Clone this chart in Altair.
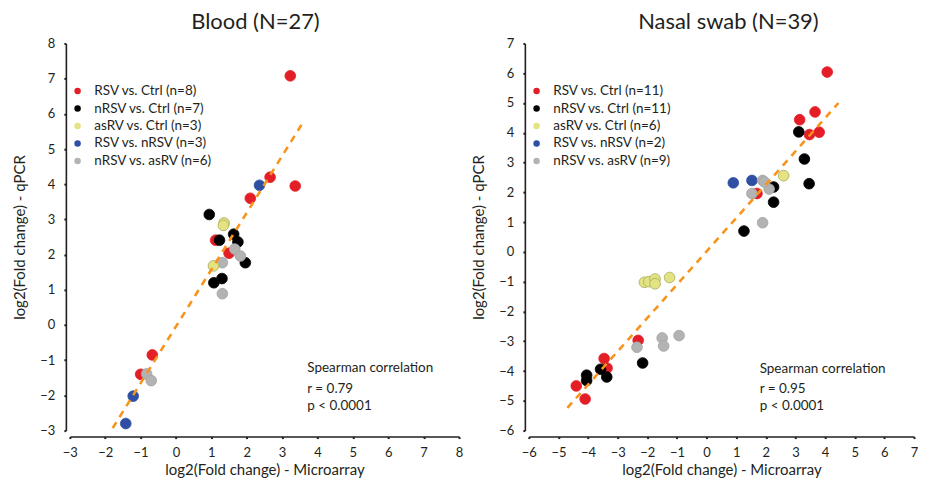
import altair as alt
import pandas as pd

FONT = "Lato"

groups = ["RSV vs. Ctrl", "nRSV vs. Ctrl", "asRV vs. Ctrl", "RSV vs. nRSV", "nRSV vs. asRV"]
fill_colors = ["#E31E26", "#000000", "#E3E383", "#2E4FA3", "#B3B3B3"]
stroke_colors = ["#E31E26", "#000000", "#A9A95A", "#2E4FA3", "#A3A3A3"]
draw_order = ["RSV vs. Ctrl", "nRSV vs. Ctrl", "RSV vs. nRSV", "nRSV vs. asRV", "asRV vs. Ctrl"]

# ---- Blood (N=27)
blood_n = [8, 7, 3, 3, 6]
blood_group = (["RSV vs. Ctrl"] * 8 + ["nRSV vs. Ctrl"] * 7 + ["asRV vs. Ctrl"] * 3
               + ["RSV vs. nRSV"] * 3 + ["nRSV vs. asRV"] * 6)
blood_x = [3.23, 2.66, 3.37, 2.10, 1.12, 1.50, -0.67, -1.00,
           0.94, 1.63, 1.23, 1.75, 1.96, 1.30, 1.07,
           1.36, 1.34, 1.06,
           2.36, -1.21, -1.42,
           1.66, 1.82, 1.31, 1.31, -0.83, -0.70]
blood_y = [7.08, 4.20, 3.95, 3.60, 2.41, 2.04, -0.85, -1.40,
           3.14, 2.58, 2.41, 2.36, 1.77, 1.32, 1.20,
           2.90, 2.83, 1.68,
           3.97, -2.02, -2.80,
           2.16, 1.96, 1.77, 0.89, -1.39, -1.58]
blood_fit_x = [-1.79, 3.58]
blood_fit_y = [-2.93, 5.74]
blood_ann_x = [3.71, 3.71, 3.71]
blood_ann_y = [-1.22, -1.81, -2.29]
blood_ann_text = ["Spearman correlation", "r = 0.79", "p < 0.0001"]

# ---- Nasal swab (N=39)
nasal_n = [11, 11, 6, 2, 9]
nasal_group = (["RSV vs. Ctrl"] * 11 + ["nRSV vs. Ctrl"] * 11 + ["asRV vs. Ctrl"] * 6
               + ["RSV vs. nRSV"] * 2 + ["nRSV vs. asRV"] * 9)
nasal_x = [4.07, 3.66, 3.14, 3.47, 3.80, 1.70, -2.31, -3.46, -3.36, -4.40, -4.10,
           3.11, 3.30, 3.46, 2.26, 2.26, 1.26, -2.16, -3.58, -3.37, -4.05, -4.05,
           2.60, -2.10, -1.95, -1.74, -1.74, -1.25,
           0.90, 1.53,
           1.89, 2.11, 1.53, 1.89, -2.35, -1.50, -0.93, -1.45, 1.95]
nasal_y = [6.04, 4.70, 4.44, 3.94, 4.02, 1.96, -2.97, -3.58, -3.90, -4.50, -4.94,
           4.03, 3.12, 2.29, 2.18, 1.67, 0.70, -3.73, -3.94, -4.20, -4.14, -4.32,
           2.56, -1.02, -1.00, -0.91, -1.07, -0.86,
           2.32, 2.40,
           2.40, 2.11, 1.96, 0.98, -3.20, -2.89, -2.81, -3.16, 2.35]
nasal_fit_x = [-4.70, 4.45]
nasal_fit_y = [-5.24, 5.00]
nasal_ann_x = [1.79, 1.79, 1.79]
nasal_ann_y = [-3.92, -4.59, -5.16]
nasal_ann_text = ["Spearman correlation", "r = 0.95", "p < 0.0001"]


def panel(title, title_dx, gx, gy, grp, ns, fit_x, fit_y, ax, ay, atext,
          xdom, ydom, width, height, leg_x, leg_y):
    labels = {g: f"{g} (n={n})" for g, n in zip(groups, ns)}
    df = pd.DataFrame({"x": gx, "y": gy, "g": grp})
    df["label"] = df["g"].map(labels)
    df["ord"] = df["g"].map({g: i for i, g in enumerate(draw_order)})
    df = df.sort_values("ord", kind="stable")
    legend_domain = [labels[g] for g in groups]

    xs = alt.Scale(domain=xdom, nice=False, zero=False)
    ys = alt.Scale(domain=ydom, nice=False, zero=False)
    xvals = list(range(xdom[0], xdom[1] + 1))
    yvals = list(range(ydom[0], ydom[1] + 1))

    xaxis = alt.Axis(values=xvals, tickCount=len(xvals), title="log2(Fold change) - Microarray",
                     offset=6, format="d", labelPadding=8, titlePadding=3, labelOverlap=False,
                     labelFlush=False)
    yaxis = alt.Axis(values=yvals, tickCount=len(yvals), title="log2(Fold change) - qPCR",
                     offset=4, format="d", labelPadding=9, titlePadding=12, labelOverlap=False,
                     labelFlush=False)
    X = alt.X("x:Q", scale=xs, axis=xaxis)
    Y = alt.Y("y:Q", scale=ys, axis=yaxis)

    pts = alt.Chart(df).mark_circle(size=115, opacity=1, strokeWidth=0.8).encode(
        x=X, y=Y,
        color=alt.Color("label:N", scale=alt.Scale(domain=legend_domain, range=fill_colors),
                        legend=alt.Legend(title=None, orient="none", legendX=leg_x, legendY=leg_y,
                                          symbolSize=42, symbolType="circle", labelFontSize=13.5,
                                          labelColor="#231F20", labelFont=FONT, rowPadding=2.5,
                                          labelOffset=10, padding=0, symbolStrokeWidth=0)),
        stroke=alt.Stroke("label:N", scale=alt.Scale(domain=legend_domain, range=stroke_colors),
                          legend=None),
        order=alt.Order("ord:Q"),
    )

    fit = alt.Chart(pd.DataFrame({"x": fit_x, "y": fit_y})).mark_line(
        color="#F7941D", strokeWidth=2.6, strokeDash=[7, 6]
    ).encode(x=X, y=Y)

    ann = alt.Chart(pd.DataFrame({"x": ax, "y": ay, "t": atext})).mark_text(
        align="left", baseline="middle", fontSize=13.5, font=FONT, color="#231F20"
    ).encode(x=X, y=Y, text="t:N")

    return alt.layer(pts, fit, ann).properties(
        width=width, height=height,
        title=alt.TitleParams(title, fontSize=22, fontWeight="normal", font=FONT,
                              color="#231F20", offset=3, dx=title_dx, frame="group",
                              anchor="middle"),
    )


left = panel("Blood (N=27)", -9, blood_x, blood_y, blood_group, blood_n,
             blood_fit_x, blood_fit_y, blood_ann_x, blood_ann_y, blood_ann_text,
             [-3, 8], [-3, 8], 390, 388, 1, 41)
right = panel("Nasal swab (N=39)", 7, nasal_x, nasal_y, nasal_group, nasal_n,
              nasal_fit_x, nasal_fit_y, nasal_ann_x, nasal_ann_y, nasal_ann_text,
              [-6, 7], [-6, 7], 386, 388, 1, 41)

chart = alt.hconcat(left, right, spacing=70, bounds="flush").resolve_scale(
    color="independent", stroke="independent", x="independent", y="independent"
).properties(padding={"left": 4, "top": 3, "right": 0, "bottom": 0}).configure(
    font=FONT
).configure_view(stroke=None).configure_axis(
    grid=False, domainColor="#231F20", domainWidth=1.6, tickColor="#231F20",
    tickSize=2, tickWidth=2, labelFont=FONT, labelFontSize=13, labelColor="#231F20",
    titleFont=FONT, titleFontSize=15, titleFontWeight="normal", titleColor="#231F20",
    labelOverlap=False,
)

chart.save("out.html", embed_options={"renderer": "svg", "actions": False})
